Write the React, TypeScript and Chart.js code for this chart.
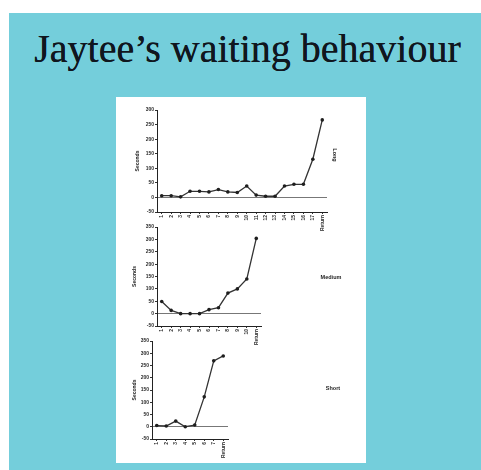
import React, { useEffect, useRef } from 'react';
import { Chart, registerables } from 'chart.js';

Chart.register(...registerables);

const titleText = 'Jaytee’s waiting behaviour';
const yAxisTitle = 'Seconds';

const longLabels = ['1', '2', '3', '4', '5', '6', '7', '8', '9', '10', '11', '12', '13', '14', '15', '16', '17', 'Return'];
const longValues = [6, 6, 2, 21, 21, 19, 27, 19, 17, 39, 8, 4, 4, 39, 45, 45, 131, 266];

const mediumLabels = ['1', '2', '3', '4', '5', '6', '7', '8', '9', '10', 'Return'];
const mediumValues = [49, 13, 0, 0, 0, 16, 24, 83, 100, 140, 304];

const shortLabels = ['1', '2', '3', '4', '5', '6', '7', 'Return'];
const shortValues = [5, 3, 23, 0, 7, 122, 269, 289];

const longRange = [-50, 300];
const mediumRange = [-50, 350];
const shortRange = [-50, 350];

const sideLabelPlugin = {
  id: 'sideLabel',
  afterDraw(chart: any, _args: any, opts: any) {
    if (!opts || !opts.text) return;
    const ctx = chart.ctx;
    ctx.save();
    ctx.font = `bold ${opts.size}px "Liberation Sans", Arial, sans-serif`;
    ctx.fillStyle = opts.color;
    ctx.textAlign = 'center';
    ctx.textBaseline = 'middle';
    ctx.translate(opts.x, opts.y);
    ctx.rotate((opts.rotate * Math.PI) / 180);
    ctx.fillText(opts.text, 0, 0);
    ctx.restore();
  },
};

type MiniProps = {
  labels: string[];
  values: number[];
  range: number[];
  left: number;
  top: number;
  width: number;
  height: number;
  yWidth: number;
  xHeight: number;
  padRight: number;
  padTop: number;
  side: { text: string; x: number; y: number; rotate: number };
};

function MiniChart(p: MiniProps) {
  const ref = useRef<HTMLCanvasElement | null>(null);
  useEffect(() => {
    if (!ref.current) return;
    const font = { family: '"Liberation Sans", Arial, sans-serif', size: 5, weight: 'bold' as const };
    const chart = new Chart(ref.current, {
      type: 'line',
      data: {
        labels: p.labels,
        datasets: [
          {
            data: p.values,
            borderColor: '#333333',
            borderWidth: 1.3,
            pointRadius: 1.8,
            pointBackgroundColor: '#1e1e1e',
            pointBorderWidth: 0,
            tension: 0,
            fill: false,
          },
        ],
      },
      options: {
        responsive: false,
        animation: false,
        layout: { padding: { top: p.padTop, right: p.padRight, left: 0, bottom: 0 } },
        plugins: {
          legend: { display: false },
          tooltip: { enabled: false },
          sideLabel: { ...p.side, size: 5.5, color: '#222' },
        } as any,
        scales: {
          x: {
            type: 'category',
            offset: true,
            grid: { color: 'transparent', offset: false, drawTicks: true, tickColor: '#333', tickLength: 2 },
            border: { display: true, color: '#222', width: 1 },
            ticks: { font, color: '#2a2a2a', minRotation: 90, maxRotation: 90, padding: 1, autoSkip: false },
            afterFit: (s: any) => {
              s.height = p.xHeight;
            },
          },
          y: {
            min: p.range[0],
            max: p.range[1],
            grid: {
              color: (c: any) => (c.tick && c.tick.value === 0 ? '#777' : 'transparent'),
              drawTicks: true,
              tickColor: '#333',
              tickLength: 2,
            },
            border: { display: true, color: '#222', width: 1 },
            ticks: { font, color: '#2a2a2a', stepSize: 50, padding: 1 },
            title: { display: true, text: yAxisTitle, font, color: '#222', padding: 0 },
            afterFit: (s: any) => {
              s.width = p.yWidth;
            },
          },
        },
      },
      plugins: [sideLabelPlugin],
    });
    return () => chart.destroy();
  }, []);
  return (
    <canvas
      ref={ref}
      width={p.width}
      height={p.height}
      style={{ position: 'absolute', left: p.left, top: p.top, width: p.width, height: p.height }}
    />
  );
}

export default function App() {
  return (
    <div style={{ position: 'fixed', left: 0, top: 0, width: 481, height: 470, background: '#ffffff', overflow: 'hidden' }}>
      <div style={{ position: 'absolute', left: 9, top: 13, width: 472, height: 457, background: '#74CEDB' }} />
      <div
        style={{
          position: 'absolute',
          left: 0,
          top: 29,
          width: 495,
          textAlign: 'center',
          fontFamily: '"Liberation Serif", "Times New Roman", serif',
          fontSize: 40,
          lineHeight: '40px',
          color: '#10161e',
          whiteSpace: 'nowrap',
          textShadow: '0 0 0.6px #10161e',
        }}
      >
        {titleText}
      </div>
      <div style={{ position: 'absolute', left: 116, top: 97, width: 250, height: 366, background: '#ffffff' }} />
      <MiniChart
        labels={longLabels}
        values={longValues}
        range={longRange}
        left={135}
        top={104}
        width={213}
        height={132}
        yWidth={22}
        xHeight={24}
        padRight={21}
        padTop={6}
        side={{ text: 'Long', x: 200, y: 51, rotate: 90 }}
      />
      <MiniChart
        labels={mediumLabels}
        values={mediumValues}
        range={mediumRange}
        left={132}
        top={221}
        width={218}
        height={129}
        yWidth={25}
        xHeight={24}
        padRight={89}
        padTop={6}
        side={{ text: 'Medium', x: 199, y: 56, rotate: 0 }}
      />
      <MiniChart
        labels={shortLabels}
        values={shortValues}
        range={shortRange}
        left={132}
        top={335}
        width={218}
        height={128}
        yWidth={20}
        xHeight={24}
        padRight={122}
        padTop={6}
        side={{ text: 'Short', x: 201, y: 53, rotate: 0 }}
      />
    </div>
  );
}
